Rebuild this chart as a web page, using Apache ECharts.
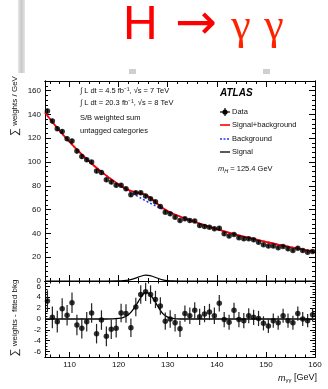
<!DOCTYPE html>
<html><head><meta charset="utf-8">
<script src="https://cdn.jsdelivr.net/npm/echarts@6/dist/echarts.min.js"></script>
<style>html,body{margin:0;padding:0;background:#fff}#c{width:328px;height:389px}</style>
</head><body><div id="c"></div>
<script>
// ---------- DATA ----------
const massBins = [105.5,106.5,107.5,108.5,109.5,110.5,111.5,112.5,113.5,114.5,
  115.5,116.5,117.5,118.5,119.5,120.5,121.5,122.5,123.5,124.5,
  125.5,126.5,127.5,128.5,129.5,130.5,131.5,132.5,133.5,134.5,
  135.5,136.5,137.5,138.5,139.5,140.5,141.5,142.5,143.5,144.5,
  145.5,146.5,147.5,148.5,149.5,150.5,151.5,152.5,153.5,154.5,
  155.5,156.5,157.5,158.5,159.5];
const dataWeights = [142.7,134.3,127.9,125.6,119.5,117.5,109.1,104.6,101.8,99.9,
  92.3,91.2,85.0,83.1,80.5,80.5,77.5,72.4,74.1,74.1,
  71.3,69.0,66.5,62.6,57.8,56.4,53.6,50.8,52.2,50.8,
  50.3,46.6,45.8,45.2,43.8,44.4,39.6,37.7,39.1,36.3,
  35.4,35.4,34.6,32.6,30.4,29.3,29.3,27.9,29.0,27.0,
  25.6,27.6,25.6,24.2,24.8];
const residuals = [3.3,0.3,-0.5,1.9,0.7,3.0,-1.1,-1.7,-0.5,1.1,
  -2.7,-0.2,-3.2,-1.9,-1.7,1.1,1.0,-1.6,2.2,4.5,
  5.0,4.5,3.6,2.4,-0.4,0.0,-0.7,-1.8,1.0,0.6,
  1.6,0.4,0.9,1.3,0.6,2.9,-0.1,-0.6,1.6,-0.1,
  -0.3,0.6,0.3,0.1,-0.8,-1.3,-0.3,-0.7,0.6,-0.3,
  -0.7,1.0,0.0,-0.3,0.8];
const errors = [2.0,2.0,2.0,1.9,1.9,1.9,1.9,1.9,1.8,1.8,
  1.8,1.8,1.8,1.8,1.7,1.7,1.7,1.7,1.7,1.7,
  1.7,1.7,1.6,1.6,1.6,1.6,1.6,1.5,1.5,1.5,
  1.5,1.5,1.5,1.5,1.5,1.5,1.4,1.4,1.4,1.4,
  1.4,1.4,1.4,1.4,1.3,1.3,1.3,1.3,1.3,1.3,
  1.3,1.3,1.3,1.2,1.2];
const massCurve = [105,107.5,110,112.5,115,117.5,120,121,122,123,124,125,125.5,126,127,128,129,130,131,132.5,135,137.5,140,142.5,145,147.5,150,152.5,155,157.5,160];
const bkgCurve = [141.5,128.5,116.8,106.3,96.8,88.5,81.0,78.3,75.7,73.2,70.8,68.5,67.4,66.3,64.2,62.2,60.3,58.4,56.6,54.2,50.4,46.9,43.6,40.6,37.9,35.3,32.9,30.6,28.5,26.5,24.6];
const signalCurve = [0,0,0,0,0,0,0.1,0.3,0.8,1.8,3.2,4.6,4.9,4.8,3.8,2.3,1.0,0.35,0.1,0,0,0,0,0,0,0,0,0,0,0,0];
const xTicks = [110,120,130,140,150,160];
const yTicksTop = [0,20,40,60,80,100,120,140,160];
const yTicksBottom = [-6,-4,-2,0,2,4,6];

// ---------- BUILD ----------
const FF = 'Liberation Sans';
const xMinor = []; for (let v = 106; v < 160; v += 2) if (v % 10) xMinor.push(v);
const yMinorTop = []; for (let v = 4; v < 168; v += 4) if (v % 20) yMinorTop.push(v);
const yMinorBot = []; for (let v = -6.5; v <= 6.5; v += 0.5) if (v % 2) yMinorBot.push(v);

const xAxes = [], yAxes = [];
function xAx(grid, pos, vals, len, labels) {
  xAxes.push({type:'value', gridIndex:grid, position:pos, min:105, max:160,
    axisLine:{show:true, onZero:false, lineStyle:{color:'#000', width:1}},
    splitLine:{show:false},
    axisTick:{show:true, inside:true, length:len, customValues:vals, lineStyle:{color:'#000', width:1}},
    axisLabel:{show:labels, customValues:vals, margin:4, fontSize:8, color:'#111', fontFamily:FF}});
  return xAxes.length - 1;
}
function yAx(grid, pos, min, max, vals, len, labels) {
  yAxes.push({type:'value', gridIndex:grid, position:pos, min:min, max:max,
    axisLine:{show:true, onZero:false, lineStyle:{color:'#000', width:1}},
    splitLine:{show:false},
    axisTick:{show:true, inside:true, length:len, customValues:vals, lineStyle:{color:'#000', width:1}},
    axisLabel:{show:labels, customValues:vals, margin:4, fontSize:8, color:'#111', fontFamily:FF}});
  return yAxes.length - 1;
}
// top panel
const xT = xAx(0,'bottom',xTicks,6,false); xAx(0,'bottom',xMinor,3,false);
xAx(0,'top',xTicks,6,false); xAx(0,'top',xMinor,3,false);
const yT = yAx(0,'left',0,168,yTicksTop,6,true); yAx(0,'left',0,168,yMinorTop,3,false);
yAx(0,'right',0,168,yTicksTop,6,false); yAx(0,'right',0,168,yMinorTop,3,false);
// bottom panel
const xB = xAx(1,'bottom',xTicks,5,true); xAx(1,'bottom',xMinor,2.5,false);
xAx(1,'top',xTicks,5,false); xAx(1,'top',xMinor,2.5,false);
const yB = yAx(1,'left',-7,7,yTicksBottom,5,true); yAx(1,'left',-7,7,yMinorBot,2.5,false);
yAx(1,'right',-7,7,yTicksBottom,5,false); yAx(1,'right',-7,7,yMinorBot,2.5,false);

const bkgLine = massCurve.map((m,i)=>[m,bkgCurve[i]]);
const sbLine = massCurve.map((m,i)=>[m,bkgCurve[i]+signalCurve[i]]);
const sigLine = massCurve.map((m,i)=>[m,signalCurve[i]]);
const dataPts = massBins.map((m,i)=>[m,dataWeights[i]]);
const resPts = massBins.map((m,i)=>[m,residuals[i]]);
const dataErr = massBins.map((m,i)=>[m,dataWeights[i]-errors[i],dataWeights[i]+errors[i]]);
const resErr = massBins.map((m,i)=>[m,residuals[i]-errors[i],residuals[i]+errors[i]]);

function errSeries(xi, yi, data, color) {
  return {type:'custom', xAxisIndex:xi, yAxisIndex:yi, data:data, z:4, silent:true,
    renderItem:(p, api)=>{
      const a = api.coord([api.value(0), api.value(1)]);
      const b = api.coord([api.value(0), api.value(2)]);
      return {type:'line', shape:{x1:a[0], y1:a[1], x2:b[0], y2:b[1]}, style:{stroke:color, lineWidth:1.2}};
    }};
}

const chart = echarts.init(document.getElementById('c'), null, {renderer:'canvas'});
const txt = (x,y,text,extra) => ({type:'text', x:x, y:y, z:100,
  style:Object.assign({text:text, fontSize:7.5, fontFamily:FF, fill:'#111', align:'left', verticalAlign:'middle'}, extra||{})});
const ln = (x1,y1,x2,y2,stroke,w,dash) => ({type:'line', z:100, shape:{x1,y1,x2,y2}, style:{stroke:stroke, lineWidth:w, lineDash:dash||null}});

chart.setOption({
  animation:false,
  grid:[{left:45, top:81, width:270, height:200}, {left:45, top:281, width:270, height:76}],
  xAxis:xAxes, yAxis:yAxes,
  series:[
    {type:'line', xAxisIndex:xT, yAxisIndex:yT, data:bkgLine, smooth:0.4, symbol:'none', z:2,
      lineStyle:{color:'#2233ff', width:1.5, type:[2,2]}},
    {type:'line', xAxisIndex:xT, yAxisIndex:yT, data:sbLine, smooth:0.4, symbol:'none', z:3,
      lineStyle:{color:'#ff0000', width:1.8}},
    {type:'line', xAxisIndex:xT, yAxisIndex:yT, data:sigLine, smooth:0.4, symbol:'none', z:3,
      lineStyle:{color:'#000', width:1.2}},
    errSeries(xT, yT, dataErr, '#000'),
    {type:'scatter', xAxisIndex:xT, yAxisIndex:yT, data:dataPts, symbol:'circle', symbolSize:5.5, z:5,
      itemStyle:{color:'#000'}},
    {type:'line', xAxisIndex:xB, yAxisIndex:yB, data:sigLine, smooth:0.4, symbol:'none', z:3,
      lineStyle:{color:'#000', width:1.3}},
    errSeries(xB, yB, resErr, '#222'),
    {type:'scatter', xAxisIndex:xB, yAxisIndex:yB, data:resPts, symbol:'circle', symbolSize:5.5, z:5,
      itemStyle:{color:'#000'}}
  ],
  graphic:[
    // slide decorations
    {type:'rect', z:1, shape:{x:18, y:0, width:7, height:73}, style:{fill:new echarts.graphic.LinearGradient(0,0,1,0,[{offset:0,color:'#e6e6e6'},{offset:0.5,color:'#c8c8c8'},{offset:1,color:'#e6e6e6'}])}},
    {type:'rect', z:1, shape:{x:129, y:69, width:7, height:5}, style:{fill:'#cfcfcf'}},
    {type:'rect', z:1, shape:{x:263, y:69, width:7, height:5}, style:{fill:'#cfcfcf'}},
    // title
    txt(123, 26, 'H', {fontSize:48, fill:'#ff0000', fontFamily:FF}),
    txt(196, 26, '→', {fontSize:50, fill:'#ff0000', fontFamily:'DejaVu Sans', align:'center'}),
    txt(241, 27, 'γ', {fontSize:44, fill:'#ff2200', fontFamily:'Liberation Serif', align:'center'}),
    txt(274, 27, 'γ', {fontSize:44, fill:'#ff2200', fontFamily:'Liberation Serif', align:'center'}),
    // axis titles
    {type:'text', x:15, y:106, rotation:Math.PI/2, z:100,
      style:{text:'{s|∑} weights / GeV', rich:{s:{fontSize:11, fontFamily:FF, fill:'#111'}}, fontSize:8, fontFamily:FF, fill:'#111', align:'center', verticalAlign:'middle'}},
    {type:'text', x:15, y:318, rotation:Math.PI/2, z:100,
      style:{text:'{s|∑} weights - fitted bkg', rich:{s:{fontSize:11, fontFamily:FF, fill:'#111'}}, fontSize:8, fontFamily:FF, fill:'#111', align:'center', verticalAlign:'middle'}},
    {type:'text', x:317, y:378, z:100,
      style:{text:'{m|m}{s|γγ} [GeV]', rich:{m:{fontSize:9, fontStyle:'italic', fontFamily:FF, fill:'#111'}, s:{fontSize:6, fontFamily:FF, fill:'#111', padding:[5,0,0,0]}}, fontSize:9, fontFamily:FF, fill:'#111', align:'right', verticalAlign:'middle'}},
    // left info text
    txt(80, 91, '∫ L dt = 4.5 fb⁻¹, √s = 7 TeV'),
    txt(80, 103, '∫ L dt = 20.3 fb⁻¹, √s = 8 TeV'),
    txt(80, 118, 'S/B weighted sum'),
    txt(80, 131, 'untagged categories'),
    // ATLAS + legend
    txt(220, 93, 'ATLAS', {fontSize:10, fontWeight:'bold', fontStyle:'italic', fill:'#000'}),
    ln(220,112,230,112,'#000',1.2), ln(225,108,225,116,'#000',1.2),
    {type:'circle', z:101, shape:{cx:225, cy:112, r:2.6}, style:{fill:'#000'}},
    txt(232, 112, 'Data'),
    ln(220,125,230,125,'#ff0000',1.6), txt(232, 125, 'Signal+background'),
    ln(220,139,230,139,'#2233ff',1.5,[2,1.5]), txt(232, 139, 'Background'),
    ln(220,152,230,152,'#000',1.3), txt(232, 152, 'Signal'),
    {type:'text', x:218, y:169, z:100,
      style:{text:'{m|m}{s|H} = 125.4 GeV', rich:{m:{fontSize:7.5, fontStyle:'italic', fontFamily:FF, fill:'#111'}, s:{fontSize:5.5, fontStyle:'italic', fontFamily:FF, fill:'#111', padding:[4,0,0,0]}}, fontSize:7.5, fontFamily:FF, fill:'#111', align:'left', verticalAlign:'middle'}}
  ]
});
</script></body></html>
